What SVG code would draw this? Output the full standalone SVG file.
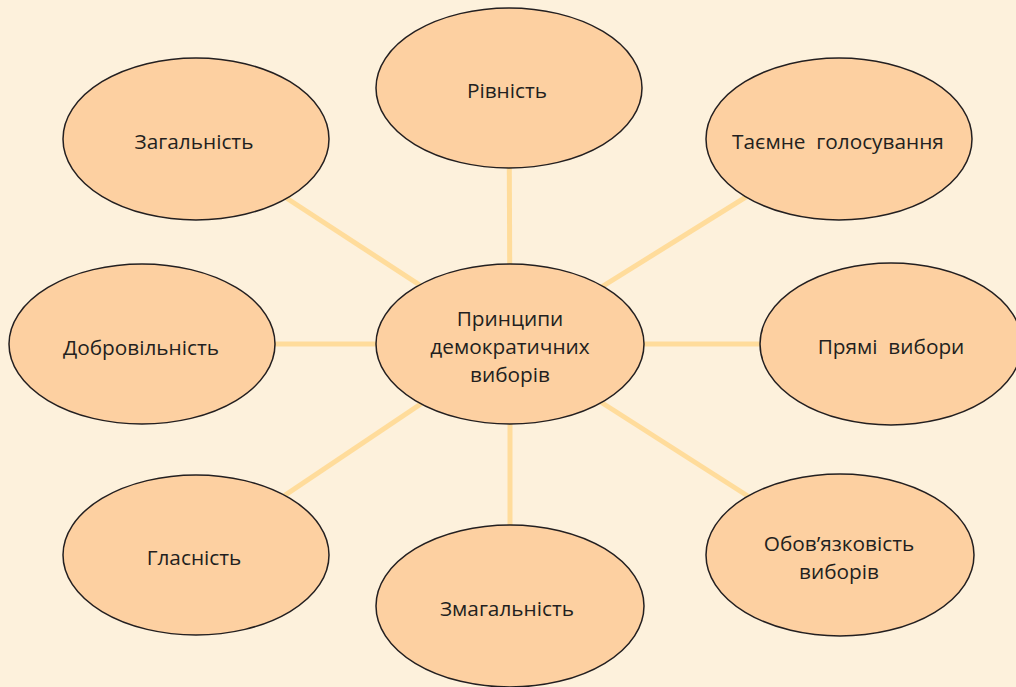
<svg xmlns="http://www.w3.org/2000/svg" width="1016" height="687" viewBox="0 0 1016 687">
<style>
.bg{fill:#FDF1DC}
.c{stroke:#FFDC9B;stroke-width:5;fill:none}
.n{fill:#FDD0A1;stroke:#231F20;stroke-width:1.5}
.t{font-family:"Open Sans","Liberation Sans",sans-serif;font-size:20.8px;fill:#231F20;text-anchor:middle;dominant-baseline:central}
</style>
<rect class="bg" width="1016" height="687"/>
<g id="connectors">
<line class="c" x1="510" y1="344" x2="509" y2="88"/>
<line class="c" x1="510" y1="344" x2="196" y2="139"/>
<line class="c" x1="510" y1="344" x2="839" y2="139"/>
<line class="c" x1="510" y1="344" x2="142" y2="344"/>
<line class="c" x1="510" y1="344" x2="890" y2="344"/>
<line class="c" x1="510" y1="344" x2="196" y2="555"/>
<line class="c" x1="510" y1="344" x2="510" y2="606"/>
<line class="c" x1="510" y1="344" x2="840" y2="555"/>
</g>
<g id="center">
<ellipse class="n" cx="510" cy="344" rx="134" ry="80"/>
<text class="t" x="510" y="318">Принципи</text>
<text class="t" x="510" y="346">демократичних</text>
<text class="t" x="510" y="374">виборів</text>
</g>
<g id="rivnist">
<ellipse class="n" cx="509" cy="88" rx="133" ry="80"/>
<text class="t" x="507" y="90">Рівність</text>
</g>
<g id="zahalnist">
<ellipse class="n" cx="196" cy="139" rx="133" ry="81"/>
<text class="t" x="194" y="141">Загальність</text>
</g>
<g id="taemne">
<ellipse class="n" cx="839" cy="139" rx="133" ry="81"/>
<text class="t" x="838" y="141" xml:space="preserve">Таємне  голосування</text>
</g>
<g id="dobrovilnist">
<ellipse class="n" cx="142" cy="344" rx="133" ry="80"/>
<text class="t" x="141" y="347">Добровільність</text>
</g>
<g id="priami">
<ellipse class="n" cx="891" cy="344" rx="131" ry="81"/>
<text class="t" x="891" y="346" xml:space="preserve">Прямі  вибори</text>
</g>
<g id="hlasnist">
<ellipse class="n" cx="196" cy="555" rx="133" ry="80"/>
<text class="t" x="194" y="557">Гласність</text>
</g>
<g id="zmahalnist">
<ellipse class="n" cx="510" cy="606" rx="134" ry="81"/>
<text class="t" x="507" y="608">Змагальність</text>
</g>
<g id="oboviazkovist">
<ellipse class="n" cx="840" cy="555" rx="134" ry="81"/>
<text class="t" x="839" y="543">Обов’язковість</text>
<text class="t" x="839" y="571">виборів</text>
</g>
</svg>
